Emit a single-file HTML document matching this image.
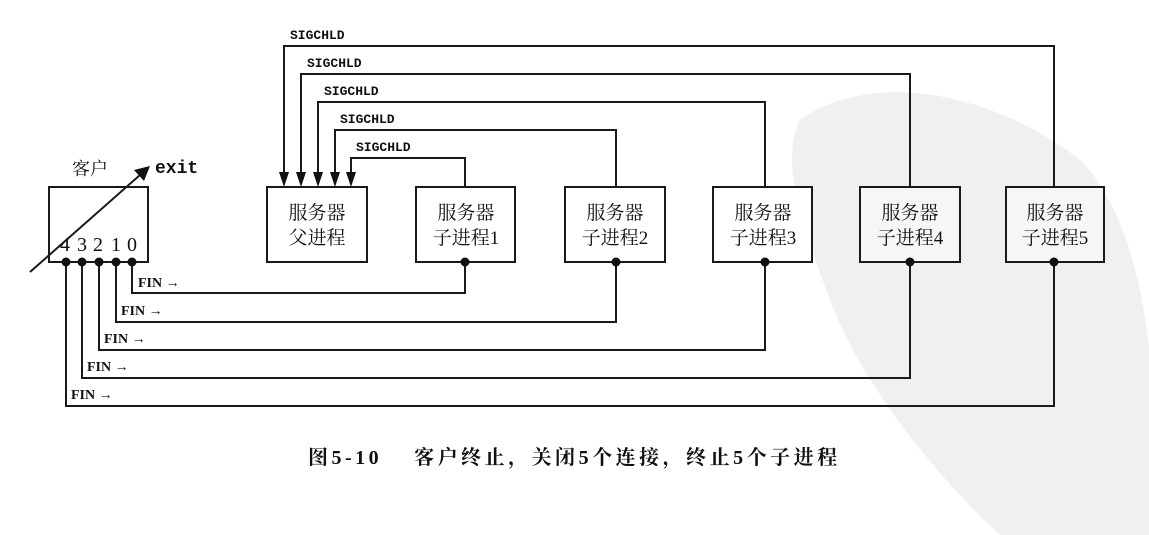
<!DOCTYPE html>
<html><head><meta charset="utf-8"><style>
html,body{margin:0;padding:0;background:#fff;width:1149px;height:535px;overflow:hidden;}
svg{display:block;}
.cj{font-family:"Liberation Serif","Noto Serif CJK SC","Noto Sans CJK SC",serif;}
.m{font-family:"Liberation Mono",monospace;font-weight:bold;}
</style></head><body>
<svg width="1149" height="535" viewBox="0 0 1149 535" xmlns="http://www.w3.org/2000/svg">
<path d="M800,120 C870,70 990,90 1080,160 C1150,230 1160,400 1149,480 L1149,535 L1000,535 C930,470 860,380 830,300 C800,220 780,160 800,120 Z" fill="#f0f0f0"/>
<g fill="none" stroke="#1a1a1a" stroke-width="2">
<polyline points="1054,187 1054,46 284,46 284,175"/>
<polyline points="910,187 910,74 301,74 301,175"/>
<polyline points="765,187 765,102 318,102 318,175"/>
<polyline points="616,187 616,130 335,130 335,175"/>
<polyline points="465,187 465,158 351,158 351,175"/>
<polyline points="132,262 132,293 465,293 465,262"/>
<polyline points="116,262 116,322 616,322 616,262"/>
<polyline points="99,262 99,350 765,350 765,262"/>
<polyline points="82,262 82,378 910,378 910,262"/>
<polyline points="66,262 66,406 1054,406 1054,262"/>
<rect x="49" y="187" width="99" height="75" fill="#fff"/>
<rect x="267" y="187" width="100" height="75" fill="#fff"/>
<rect x="416" y="187" width="99" height="75" fill="#fff"/>
<rect x="565" y="187" width="100" height="75" fill="#fff"/>
<rect x="713" y="187" width="99" height="75" fill="#fff"/>
<rect x="860" y="187" width="100" height="75" fill="#f6f6f6"/>
<rect x="1006" y="187" width="98" height="75" fill="#f6f6f6"/>
<line x1="30" y1="272" x2="140" y2="175"/>
</g>
<g fill="#111">
<polygon points="279,172 289,172 284,187"/>
<polygon points="296,172 306,172 301,187"/>
<polygon points="313,172 323,172 318,187"/>
<polygon points="330,172 340,172 335,187"/>
<polygon points="346,172 356,172 351,187"/>
<polygon points="150,166 144,181 134,170"/>
<circle cx="66" cy="262" r="4.5"/><circle cx="82" cy="262" r="4.5"/><circle cx="99" cy="262" r="4.5"/><circle cx="116" cy="262" r="4.5"/><circle cx="132" cy="262" r="4.5"/>
<circle cx="465" cy="262" r="4.5"/><circle cx="616" cy="262" r="4.5"/><circle cx="765" cy="262" r="4.5"/><circle cx="910" cy="262" r="4.5"/><circle cx="1054" cy="262" r="4.5"/>
</g>
<g class="m" font-size="13" fill="#111">
<text x="290" y="39">SIGCHLD</text>
<text x="307" y="67">SIGCHLD</text>
<text x="324" y="95">SIGCHLD</text>
<text x="340" y="123">SIGCHLD</text>
<text x="356" y="151">SIGCHLD</text>
</g>
<text class="m" x="155" y="173" font-size="18" fill="#111">exit</text>
<g class="cj" fill="#111">
<text x="72" y="175" font-size="18">客户</text>
<text x="60" y="251" font-size="20">4</text>
<text x="77" y="251" font-size="20">3</text>
<text x="93" y="251" font-size="20">2</text>
<text x="111" y="251" font-size="20">1</text>
<text x="127" y="251" font-size="20">0</text>
</g>
<g class="cj" fill="#111" font-size="19" text-anchor="middle">
<text x="317" y="219">服务器</text><text x="317" y="244">父进程</text>
<text x="466" y="219">服务器</text><text x="466" y="244">子进程1</text>
<text x="615" y="219">服务器</text><text x="615" y="244">子进程2</text>
<text x="763" y="219">服务器</text><text x="763" y="244">子进程3</text>
<text x="910" y="219">服务器</text><text x="910" y="244">子进程4</text>
<text x="1055" y="219">服务器</text><text x="1055" y="244">子进程5</text>
</g>
<g class="cj" fill="#111" font-size="14" font-weight="bold">
<text x="138" y="287">FIN →</text>
<text x="121" y="315">FIN →</text>
<text x="104" y="343">FIN →</text>
<text x="87" y="371">FIN →</text>
<text x="71" y="399">FIN →</text>
</g>
<text class="cj" x="308" y="464" font-size="20" font-weight="bold" fill="#111" letter-spacing="3.5">图5-10　 客户终止，关闭5个连接，终止5个子进程</text>
</svg>
</body></html>
